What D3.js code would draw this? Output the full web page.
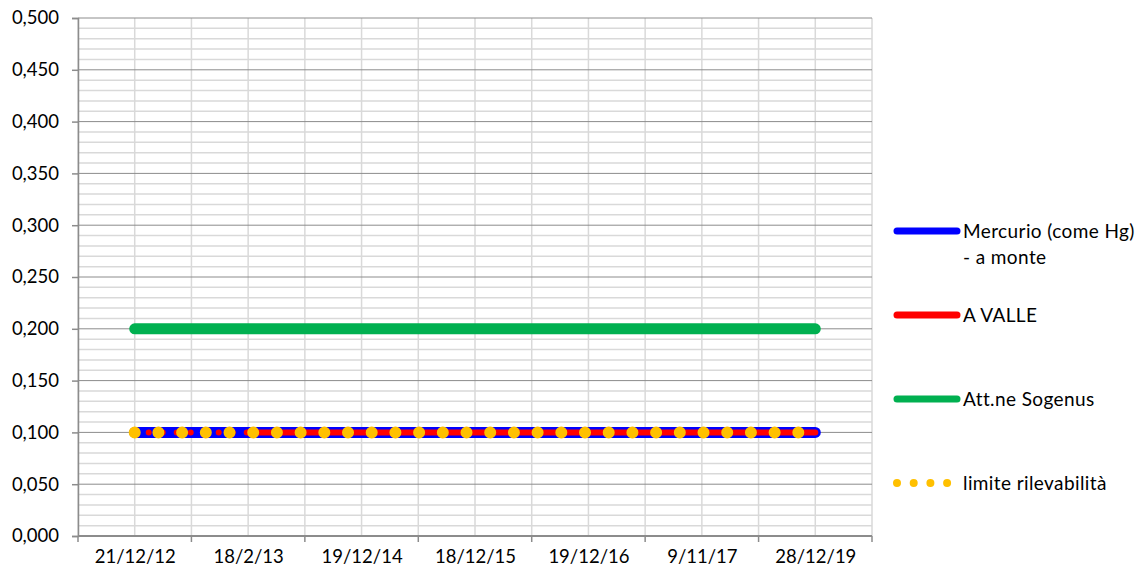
<!DOCTYPE html>
<html><head><meta charset="utf-8">
<script src="https://cdn.jsdelivr.net/npm/d3@7"></script>
<style>
html,body{margin:0;padding:0;background:#fff;}
svg{display:block;font-family:Lato, "Open Sans", sans-serif;}
</style></head>
<body>
<svg id="chart" width="1140" height="578"></svg>
<script>
const categories = ["21/12/12","18/2/13","19/12/14","18/12/15","19/12/16","9/11/17","28/12/19"];
const mercurioMonte = [0.1,0.1,0.1,0.1,0.1,0.1,0.1];
const aValle = [0.1,0.1,0.1,0.1,0.1,0.1,0.1];
const attSogenus = [0.2,0.2,0.2,0.2,0.2,0.2,0.2];
const limiteRilevabilita = [0.1,0.1,0.1,0.1,0.1,0.1,0.1];
const seriesNames = ["Mercurio (come Hg)\n- a monte","A VALLE","Att.ne Sogenus","limite rilevabilità"];
const yMajorTicks = [0,0.05,0.1,0.15,0.2,0.25,0.3,0.35,0.4,0.45,0.5];

const svg = d3.select("#chart");
const L = 78, R = 872, T = 18, B = 536;
const x = d3.scalePoint().domain(categories).range([L, R]).padding(0.5);
const step = x.step();
const y = d3.scaleLinear().domain([0, 0.5]).range([B, T]);
const loc = d3.formatLocale({decimal: ",", thousands: ".", grouping: [3], currency: ["", "€"]});
const fmt = loc.format(".3f");

// minor horizontal grid
const minor = d3.range(0, 51).map(i => i / 100).filter(v => Math.round(v * 100) % 5 !== 0);
svg.append("g").selectAll("line").data(minor).join("line")
  .attr("x1", L).attr("x2", R).attr("y1", d => y(d)).attr("y2", d => y(d))
  .attr("stroke", "#d9d9d9").attr("stroke-width", 1.5);
// vertical grid: boundaries and centres
const boundaries = d3.range(0, categories.length + 1).map(i => i === categories.length ? x(categories[i-1]) + step/2 : x(categories[i]) - step/2);
const vgrid = boundaries.concat(categories.map(c => x(c)));
svg.append("g").selectAll("line").data(vgrid).join("line")
  .attr("x1", d => d).attr("x2", d => d).attr("y1", T).attr("y2", B)
  .attr("stroke", "#d9d9d9").attr("stroke-width", 1.5);
// major horizontal grid
svg.append("g").selectAll("line").data(yMajorTicks.filter(v => v > 0)).join("line")
  .attr("x1", L).attr("x2", R).attr("y1", d => y(d)).attr("y2", d => y(d))
  .attr("stroke", "#8c8c8c").attr("stroke-width", 1);

// y axis
const yAxis = svg.append("g").attr("transform", `translate(${L},0)`)
  .call(d3.axisLeft(y).tickValues(yMajorTicks).tickFormat(fmt).tickSize(6).tickPadding(13));
yAxis.select(".domain").attr("stroke", "#8c8c8c").attr("stroke-width", 1.5);
yAxis.selectAll(".tick line").attr("stroke", "#8c8c8c").attr("stroke-width", 1.5);
yAxis.selectAll("text").attr("font-size", 18.5).attr("fill", "#000").attr("font-family", "Lato");

// x axis
const xAxis = svg.append("g").attr("transform", `translate(0,${B})`)
  .call(d3.axisBottom(x).tickSize(0).tickPadding(14));
xAxis.select(".domain").remove();
xAxis.selectAll("text").attr("font-size", 18.5).attr("fill", "#000").attr("font-family", "Lato");
svg.append("line").attr("x1", L).attr("x2", R).attr("y1", B).attr("y2", B)
  .attr("stroke", "#8c8c8c").attr("stroke-width", 2);
svg.append("g").selectAll("line").data(boundaries).join("line")
  .attr("x1", d => d).attr("x2", d => d).attr("y1", B).attr("y2", B + 6)
  .attr("stroke", "#8c8c8c").attr("stroke-width", 1.5);

const line = d3.line().x((d, i) => x(categories[i])).y(d => y(d));
const g = svg.append("g").attr("fill", "none").attr("stroke-linecap", "round").attr("stroke-linejoin", "round");
g.append("path").attr("d", line(mercurioMonte)).attr("stroke", "#0000ff").attr("stroke-width", 11);
// A VALLE: dotted on first segment, solid after
g.append("path").attr("d", line(aValle.slice(0, 2))).attr("stroke", "#ff0000").attr("stroke-width", 6)
  .attr("stroke-dasharray", "0 14");
const lineFrom1 = d3.line().x((d, i) => x(categories[i + 1])).y(d => y(d));
g.append("path").attr("d", lineFrom1(aValle.slice(1))).attr("stroke", "#ff0000").attr("stroke-width", 6);
g.append("path").attr("d", line(attSogenus)).attr("stroke", "#00b050").attr("stroke-width", 11);
g.append("path").attr("d", line(limiteRilevabilita)).attr("stroke", "#ffc000").attr("stroke-width", 12)
  .attr("stroke-dasharray", "0 23.7");

// legend
const legY = [231, 315, 399, 483];
const legColors = ["#0000ff", "#ff0000", "#00b050", "#ffc000"];
const leg = svg.append("g");
seriesNames.forEach((name, i) => {
  const ln = leg.append("line").attr("x1", 897).attr("x2", 957).attr("y1", legY[i]).attr("y2", legY[i])
    .attr("stroke", legColors[i]).attr("stroke-width", i === 3 ? 8 : 7).attr("stroke-linecap", "round");
  if (i === 3) ln.attr("x2", 948).attr("stroke-dasharray", "0 16.7");
  const t = leg.append("text").attr("x", 963).attr("y", legY[i]).attr("font-size", 19)
    .attr("letter-spacing", 0.4).attr("font-family", "Lato").attr("fill", "#000");
  name.split("\n").forEach((s, j) => {
    t.append("tspan").attr("x", 963).attr("dy", j === 0 ? "0.35em" : "1.37em").text(s);
  });
});
</script>
</body></html>
